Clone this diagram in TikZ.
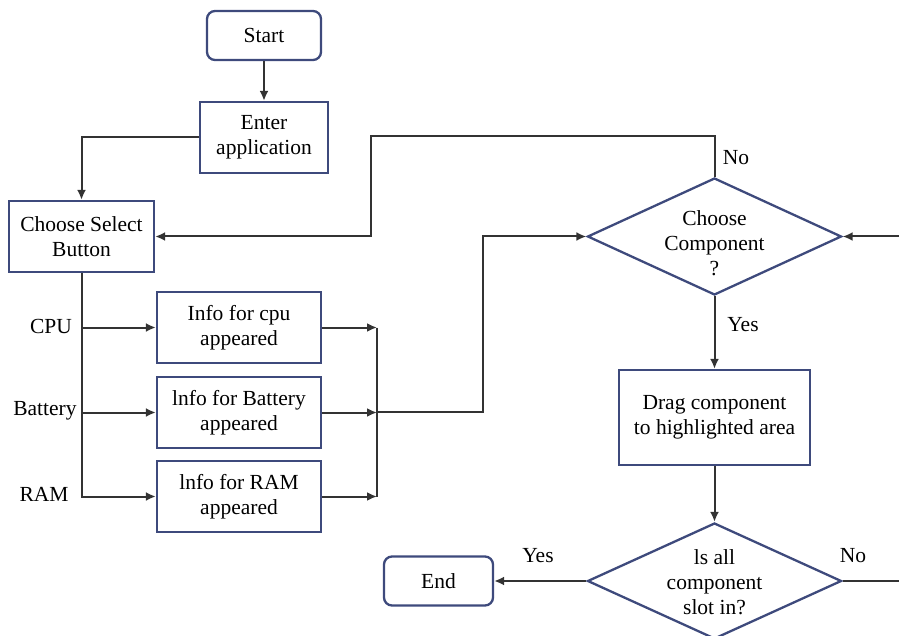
\documentclass[tikz,border=0pt]{standalone}
\usepackage{fontspec}
\setmainfont{Liberation Serif}
\usetikzlibrary{shapes.geometric,arrows.meta}
\definecolor{boxline}{HTML}{3E4A7C}
\definecolor{wire}{HTML}{333333}
\begin{document}
\begin{tikzpicture}[x=1pt,y=-1pt,
  txt/.style={font=\fontsize{21.5}{25}\selectfont, align=center, inner sep=0pt},
  procbox/.style={txt, draw=boxline, line width=2.3pt, fill=white},
  termbox/.style={procbox, rounded corners=8pt},
  decision/.style={diamond, draw=boxline, line width=2.3pt, inner sep=0pt,
    minimum width=254pt, minimum height=117pt},
  wireline/.style={draw=wire, line width=2pt},
  arr/.style={wireline, -{Latex[length=10pt,width=9pt]}},
  lbl/.style={txt}
]
\useasboundingbox (0,0) rectangle (899,636);

% terminals and process boxes
\node[termbox, minimum width=114pt, minimum height=49pt] (start) at (264,35.5) {Start};
\node[procbox, minimum width=128pt, minimum height=71pt] (enter) at (264,137.5) {Enter\\application};
\node[procbox, minimum width=145pt, minimum height=71pt] (select) at (81.5,236.5) {Choose Select\\Button};
\node[procbox, minimum width=164pt, minimum height=71pt] (cpu) at (239,327.5) {Info for cpu\\appeared};
\node[procbox, minimum width=164pt, minimum height=71pt] (batt) at (239,412.5) {lnfo for Battery\\appeared};
\node[procbox, minimum width=164pt, minimum height=71pt] (ram) at (239,496.5) {lnfo for RAM\\appeared};
\node[procbox, minimum width=191pt, minimum height=95pt] (drag) at (714.5,417.5) {Drag component\\to highlighted area};
\node[termbox, minimum width=109pt, minimum height=49pt] (end) at (438.5,581) {End};

% decisions
\node[decision] (choose) at (714.5,236.5) {};
\node[txt] (chooseTxt) at (714.5,243) {Choose\\Component\\?};
\node[decision, minimum height=116pt] (isall) at (714.5,581) {};
\node[txt] (isallTxt) at (714.5,582) {ls all\\component\\slot in?};

% branch labels
\node[lbl] (lcpu) at (51,326) {CPU};
\node[lbl] (lbatt) at (45,411) {Battery};
\node[lbl] (lram) at (44,494) {RAM};
\node[lbl] (lno1) at (736,158) {No};
\node[lbl] (lyes1) at (743,325) {Yes};
\node[lbl] (lyes2) at (538,556) {Yes};
\node[lbl] (lno2) at (853,556) {No};

% helper points
\coordinate (loopTop) at (371,136);
\coordinate (merge) at (377,411.5);
\coordinate (bend) at (483,236.5);
\coordinate (rightIn) at (899,236.5);
\coordinate (rightOut) at (899,581);

% connectors
\draw[arr] (start) -- (enter);
\draw[arr] (enter.west) -| (select.north);
\draw[arr] (choose.north) |- (loopTop) |- (select.east);
\draw[wireline] (select.south) -- (select.south |- cpu.west);
\draw[arr] (select.south |- cpu.west) -- (cpu.west);
\draw[arr] (select.south |- batt.west) -- (batt.west);
\draw[arr] (select.south) |- (ram.west);
\draw[arr] (cpu.east) -- (cpu.east -| merge);
\draw[arr] (batt.east) -- (batt.east -| merge);
\draw[arr] (ram.east) -- (ram.east -| merge);
\draw[wireline] (cpu.east -| merge) -- (ram.east -| merge);
\draw[arr] (merge) -| (bend) -- (choose.west);
\draw[arr] (rightIn) -- (choose.east);
\draw[arr] (choose.south) -- (drag.north);
\draw[arr] (drag.south) -- (isall.north);
\draw[arr] (isall.west) -- (end.east);
\draw[wireline] (isall.east) -- (rightOut);
\end{tikzpicture}
\end{document}
